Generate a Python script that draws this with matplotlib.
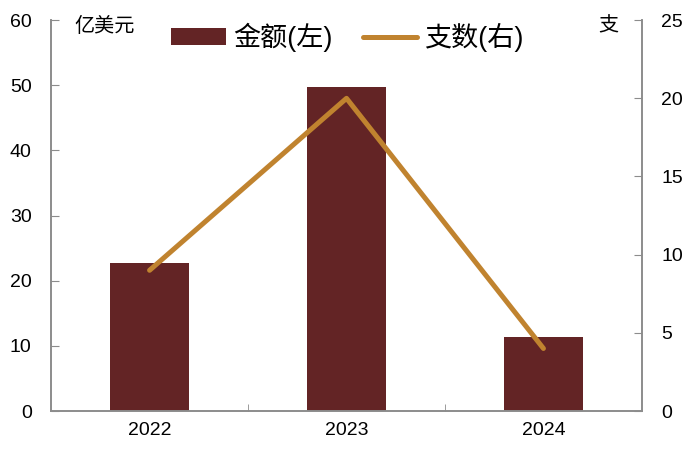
import matplotlib.pyplot as plt
import numpy as np

plt.rcParams['font.family'] = ['Liberation Sans', 'Noto Sans CJK SC', 'DejaVu Sans']

years = ["2022", "2023", "2024"]
amount = [22.7, 49.8, 11.4]   # 亿美元
count = [9, 20, 4]            # 支

bar_color = "#632425"
line_color = "#C0832F"
spine_color = "#8C8C8C"

fig = plt.figure(figsize=(7, 4.55), dpi=100)
ax = fig.add_axes([0.073, 0.0967, 0.844, 0.859])
ax2 = ax.twinx()

x = np.arange(len(years))
bars = ax.bar(x, amount, width=0.4, color=bar_color, label="金额(左)", zorder=2)
line, = ax2.plot(x, count, color=line_color, lw=3.6, solid_capstyle="round", label="支数(右)", zorder=3)

ax.set_xlim(-0.5, len(years) - 0.5)
ax.set_ylim(0, 60)
ax.set_yticks(range(0, 61, 10))
ax2.set_ylim(0, 25)
ax2.set_yticks(range(0, 26, 5))

ax.set_xticks(x)
ax.set_xticklabels(years)
ax.set_xticks(np.arange(0.5, len(years) - 1, 1), minor=True)
ax.tick_params(axis="x", which="major", length=0, labelsize=14, pad=8)
ax.tick_params(axis="x", which="minor", direction="in", length=5, color=spine_color)
ax.tick_params(axis="y", direction="in", length=6, color=spine_color, labelsize=14, pad=14)
ax2.tick_params(axis="y", direction="in", length=6, color=spine_color, labelsize=14, pad=14)

for a in (ax, ax2):
    a.spines["top"].set_visible(False)
    for s in ("left", "right", "bottom"):
        a.spines[s].set_color(spine_color)
        a.spines[s].set_linewidth(1.2)

ax.text(0.04, 0.985, "亿美元", transform=ax.transAxes, fontsize=14.5, va="center", ha="left")
ax2.text(0.96, 0.985, "支", transform=ax2.transAxes, fontsize=14.5, va="center", ha="right")

fig.legend([bars, line], ["金额(左)", "支数(右)"], loc="center", bbox_to_anchor=(0.497, 0.918),
           ncol=2, frameon=False, fontsize=19.5, handlelength=2.0, handletextpad=0.3,
           columnspacing=1.1, handleheight=0.55)

fig.savefig("out.png", dpi=100)
